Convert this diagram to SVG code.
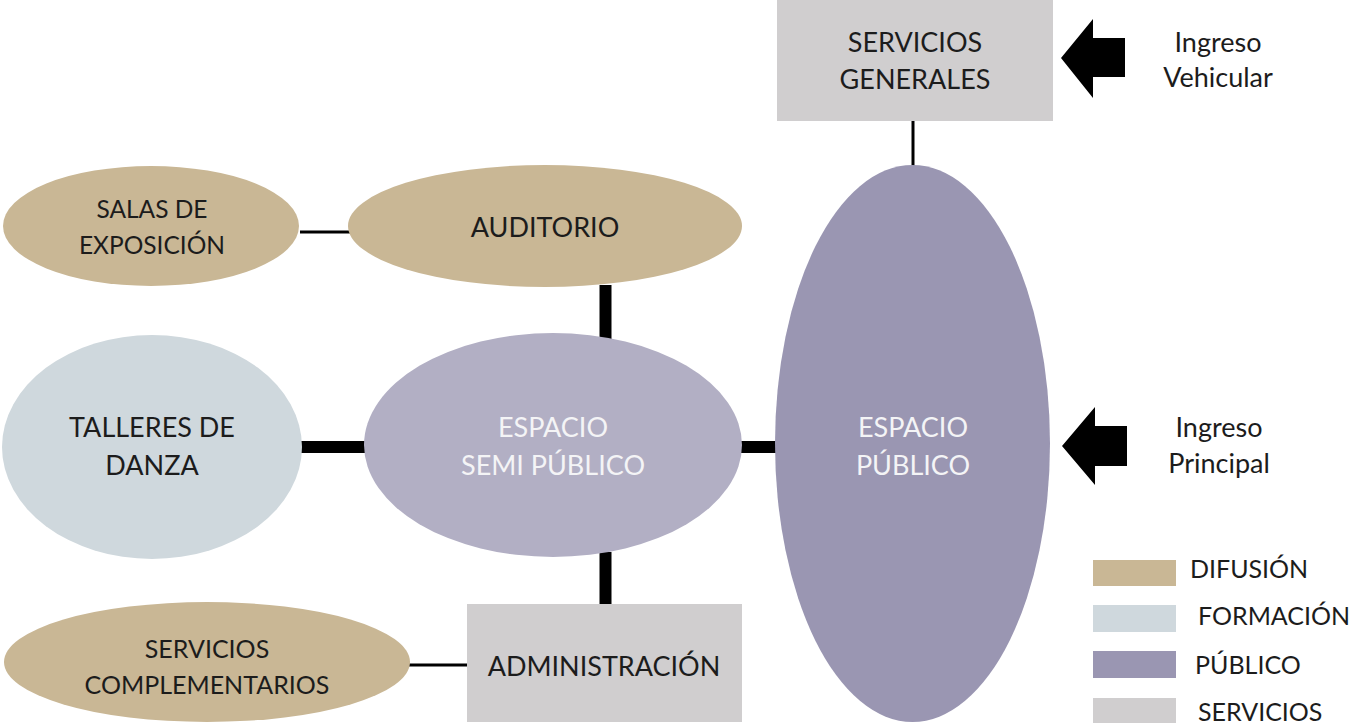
<svg xmlns="http://www.w3.org/2000/svg" width="1352" height="728" viewBox="0 0 1352 728">
<style>
text{font-family:Lato,"Liberation Sans",sans-serif;font-size:27px;fill:#1c1c1c}
.c{text-anchor:middle}
.w{fill:#f4f4f6}
.s{font-size:25px}
.dif{fill:#c9b795}
.for{fill:#cfd8dd}
.pub{fill:#9a96b2}
.semi{fill:#b2afc4}
.ser{fill:#d0cecf}
.thin{stroke:#000;stroke-width:3;fill:none}
.thick{stroke:#000;stroke-width:12;fill:none}
</style>
<g id="connectors">
<line class="thin" x1="913" y1="121" x2="913" y2="166"/>
<line class="thin" x1="300" y1="232" x2="350" y2="232"/>
<line class="thin" x1="408" y1="665" x2="469" y2="665"/>
<line class="thick" x1="605.5" y1="285" x2="605.5" y2="340"/>
<line class="thick" x1="605.5" y1="552" x2="605.5" y2="606"/>
<line class="thick" x1="300" y1="447" x2="366" y2="447"/>
<line class="thick" x1="740" y1="447" x2="777" y2="447"/>
</g>
<g id="servicios-generales">
<rect class="ser" x="777" y="0" width="276" height="121"/>
<text class="c" x="915" y="52">SERVICIOS</text>
<text class="c" x="915" y="89">GENERALES</text>
</g>
<g id="ingreso-vehicular">
<polygon points="1061,58 1093,19 1093,38 1125,38 1125,77 1093,77 1093,98" fill="#000"/>
<text class="c" x="1218" y="52">Ingreso</text>
<text class="c" x="1218" y="87">Vehicular</text>
</g>
<g id="ingreso-principal">
<polygon points="1062,446 1095,407 1095,426 1127,426 1127,466 1095,466 1095,485" fill="#000"/>
<text class="c" x="1219" y="437">Ingreso</text>
<text class="c" x="1219" y="473">Principal</text>
</g>
<g id="salas-exposicion">
<ellipse class="dif" cx="151" cy="226" rx="148" ry="60"/>
<text class="c s" x="152" y="218" style="font-size:24.5px">SALAS DE</text>
<text class="c s" x="152" y="254" style="font-size:24.5px">EXPOSICIÓN</text>
</g>
<g id="auditorio">
<ellipse class="dif" cx="545" cy="226" rx="197" ry="61"/>
<text class="c" x="545" y="237">AUDITORIO</text>
</g>
<g id="talleres-danza">
<ellipse class="for" cx="152" cy="447" rx="150" ry="112"/>
<text class="c" x="152" y="437">TALLERES DE</text>
<text class="c" x="152" y="475">DANZA</text>
</g>
<g id="espacio-semi-publico">
<ellipse class="semi" cx="553" cy="445" rx="189" ry="112"/>
<text class="c w" x="553" y="437">ESPACIO</text>
<text class="c w" x="553" y="475">SEMI PÚBLICO</text>
</g>
<g id="espacio-publico">
<ellipse class="pub" cx="912.5" cy="443.5" rx="137.5" ry="278.5"/>
<text class="c w" x="913" y="437">ESPACIO</text>
<text class="c w" x="913" y="475">PÚBLICO</text>
</g>
<g id="servicios-complementarios">
<ellipse class="dif" cx="207" cy="662" rx="203" ry="60"/>
<text class="c s" x="207" y="658">SERVICIOS</text>
<text class="c s" x="207" y="694">COMPLEMENTARIOS</text>
</g>
<g id="administracion">
<rect class="ser" x="467" y="604" width="275" height="118"/>
<text class="c" x="604" y="676">ADMINISTRACIÓN</text>
</g>
<g id="legend">
<rect class="dif" x="1093" y="560" width="83" height="26"/>
<text class="s" x="1190" y="578">DIFUSIÓN</text>
<rect class="for" x="1093" y="605" width="83" height="27"/>
<text class="s" x="1198" y="625">FORMACIÓN</text>
<rect class="pub" x="1093" y="651" width="83" height="27"/>
<text class="s" x="1195" y="674">PÚBLICO</text>
<rect class="ser" x="1093" y="698" width="83" height="25"/>
<text class="s" x="1198" y="721">SERVICIOS</text>
</g>
</svg>
